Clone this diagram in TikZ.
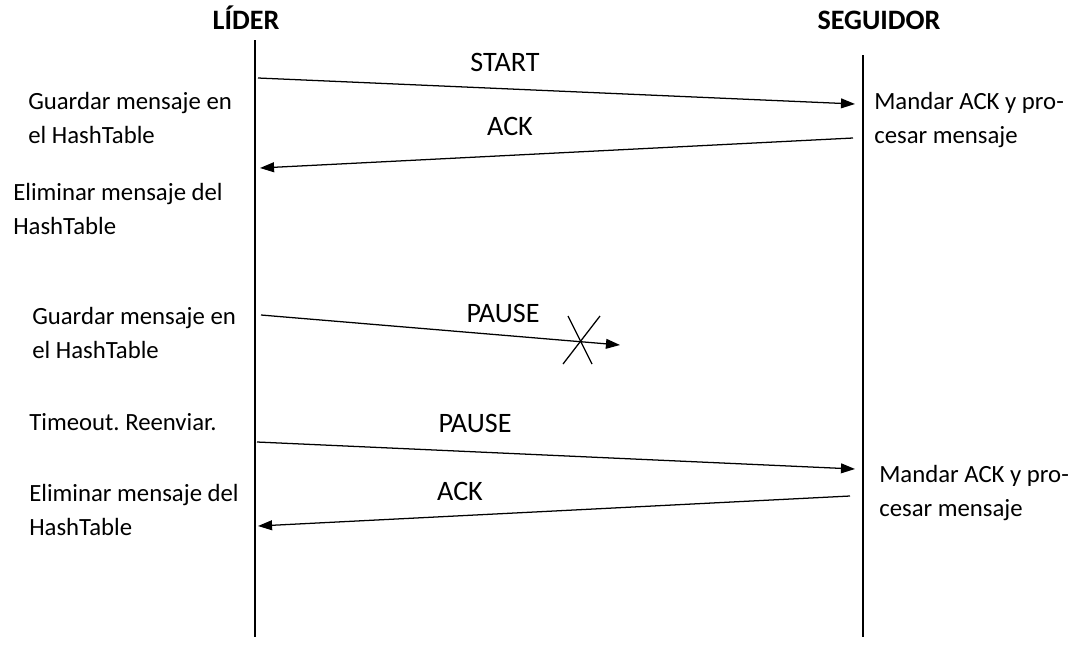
\documentclass[tikz,border=0pt]{standalone}
\usepackage{fontspec}
\setmainfont{Carlito}
\usetikzlibrary{arrows.meta}
\tikzset{
  msg/.style={line width=0.9pt,-{Triangle[length=10pt,width=7pt]}},
  note/.style={anchor=west,align=left,inner sep=0pt,font=\fontsize{17.6}{24.2}\selectfont},
  lbl/.style={inner sep=0pt,font=\fontsize{20}{24}\selectfont},
  head/.style={anchor=base,inner sep=0pt,font=\fontsize{20}{24}\selectfont\bfseries},
}
\frenchspacing
\begin{document}
\begin{tikzpicture}[x=0.025cm,y=-0.025cm]
  \useasboundingbox (0,0) rectangle (1078,646);
  % headers and lifelines
  \node[head](lider) at (246,29) {LÍDER};
  \node[head](seg) at (879,29) {SEGUIDOR};
  \coordinate (lidtop) at (255,40);  \coordinate (lidbot) at (255,637);
  \coordinate (segtop) at (863,55);  \coordinate (segbot) at (863,637);
  \draw[line width=0.9pt] (lidtop) -- (lidbot);
  \draw[line width=0.9pt] (segtop) -- (segbot);
  % START / ACK
  \coordinate (s1) at (258,78);  \coordinate (e1) at (855,104);
  \draw[msg] (s1) -- (e1);
  \node[lbl](start) at (505,62) {START};
  \coordinate (s2) at (853,138); \coordinate (e2) at (260,168);
  \draw[msg] (s2) -- (e2);
  \node[lbl](ack1) at (510,126) {ACK};
  % lost PAUSE
  \coordinate (s3) at (261,315); \coordinate (e3) at (620,345);
  \draw[msg] (s3) -- (e3);
  \node[lbl](pause1) at (503,313) {PAUSE};
  \coordinate (xa) at (563,364); \coordinate (xb) at (600,316);
  \coordinate (xc) at (568,316); \coordinate (xd) at (592,364);
  \draw[line width=0.9pt] (xa) -- (xb);
  \draw[line width=0.9pt] (xc) -- (xd);
  % PAUSE / ACK
  \coordinate (s4) at (257,442); \coordinate (e4) at (855,469);
  \draw[msg] (s4) -- (e4);
  \node[lbl](pause2) at (475,423) {PAUSE};
  \coordinate (s5) at (850,496); \coordinate (e5) at (258,526);
  \draw[msg] (s5) -- (e5);
  \node[lbl](ack2) at (460,491) {ACK};
  % notes
  \node[note](n1) at (28,118) {Guardar mensaje en\\el HashTable};
  \node[note](n2) at (13,209) {Eliminar mensaje del\\HashTable};
  \node[note](n3) at (32,333) {Guardar mensaje en\\el HashTable};
  \node[note](n4) at (29,422) {Timeout. Reenviar.};
  \node[note](n5) at (29,510) {Eliminar mensaje del\\HashTable};
  \node[note](n6) at (874,120) {Mandar ACK y pro-\\cesar mensaje};
  \node[note](n7) at (879,493) {Mandar ACK y pro-\\cesar mensaje};
\end{tikzpicture}
\end{document}
